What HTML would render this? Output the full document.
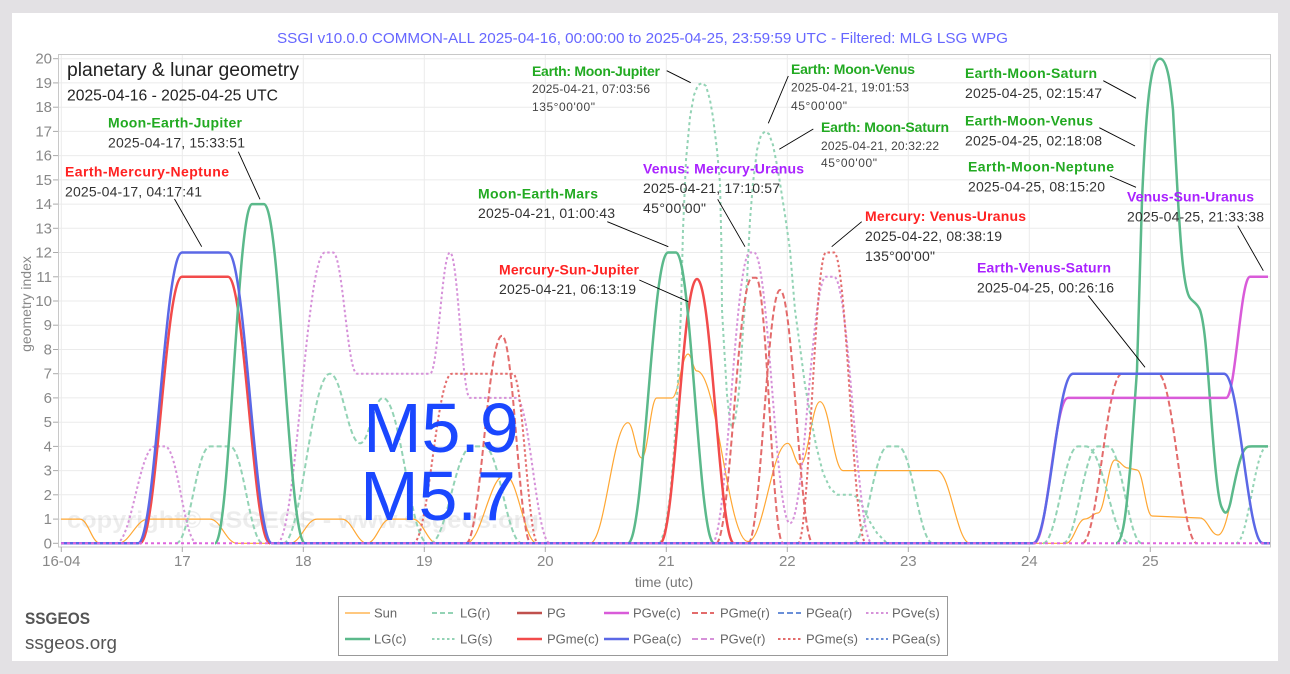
<!DOCTYPE html>
<html><head><meta charset="utf-8"><style>
html,body{margin:0;padding:0;background:#e3e1e4;}
svg{display:block;font-family:"Liberation Sans",sans-serif;}
</style></head><body>
<svg width="1290" height="674" viewBox="0 0 1290 674" xmlns="http://www.w3.org/2000/svg">
<rect x="0" y="0" width="1290" height="674" fill="#e3e1e4"/>
<rect x="12" y="13" width="1266" height="648" fill="#ffffff"/>

<!-- grid -->
<g stroke="#ebebeb" stroke-width="1">
<line x1="58" x2="1271" y1="519.1" y2="519.1"/><line x1="58" x2="1271" y1="494.8" y2="494.8"/>
<line x1="58" x2="1271" y1="470.6" y2="470.6"/><line x1="58" x2="1271" y1="446.4" y2="446.4"/>
<line x1="58" x2="1271" y1="422.2" y2="422.2"/><line x1="58" x2="1271" y1="397.9" y2="397.9"/>
<line x1="58" x2="1271" y1="373.7" y2="373.7"/><line x1="58" x2="1271" y1="349.5" y2="349.5"/>
<line x1="58" x2="1271" y1="325.2" y2="325.2"/><line x1="58" x2="1271" y1="301.0" y2="301.0"/>
<line x1="58" x2="1271" y1="276.8" y2="276.8"/><line x1="58" x2="1271" y1="252.5" y2="252.5"/>
<line x1="58" x2="1271" y1="228.3" y2="228.3"/><line x1="58" x2="1271" y1="204.1" y2="204.1"/>
<line x1="58" x2="1271" y1="179.9" y2="179.9"/><line x1="58" x2="1271" y1="155.6" y2="155.6"/>
<line x1="58" x2="1271" y1="131.4" y2="131.4"/><line x1="58" x2="1271" y1="107.2" y2="107.2"/>
<line x1="58" x2="1271" y1="82.9" y2="82.9"/><line x1="58" x2="1271" y1="58.7" y2="58.7"/>
<line x1="61.3" x2="61.3" y1="54" y2="547"/><line x1="182.3" x2="182.3" y1="54" y2="547"/>
<line x1="303.3" x2="303.3" y1="54" y2="547"/><line x1="424.3" x2="424.3" y1="54" y2="547"/>
<line x1="545.3" x2="545.3" y1="54" y2="547"/><line x1="666.3" x2="666.3" y1="54" y2="547"/>
<line x1="787.3" x2="787.3" y1="54" y2="547"/><line x1="908.3" x2="908.3" y1="54" y2="547"/>
<line x1="1029.3" x2="1029.3" y1="54" y2="547"/><line x1="1150.3" x2="1150.3" y1="54" y2="547"/>
</g>
<rect x="58.5" y="54.5" width="1212" height="492.5" fill="none" stroke="#c8c8c8" stroke-width="1"/>

<!-- y ticks -->
<g stroke="#aaa" stroke-width="1">
<line x1="53" x2="58" y1="543.3" y2="543.3"/><line x1="53" x2="58" y1="519.1" y2="519.1"/><line x1="53" x2="58" y1="494.8" y2="494.8"/><line x1="53" x2="58" y1="470.6" y2="470.6"/><line x1="53" x2="58" y1="446.4" y2="446.4"/><line x1="53" x2="58" y1="422.2" y2="422.2"/><line x1="53" x2="58" y1="397.9" y2="397.9"/><line x1="53" x2="58" y1="373.7" y2="373.7"/><line x1="53" x2="58" y1="349.5" y2="349.5"/><line x1="53" x2="58" y1="325.2" y2="325.2"/><line x1="53" x2="58" y1="301.0" y2="301.0"/><line x1="53" x2="58" y1="276.8" y2="276.8"/><line x1="53" x2="58" y1="252.5" y2="252.5"/><line x1="53" x2="58" y1="228.3" y2="228.3"/><line x1="53" x2="58" y1="204.1" y2="204.1"/><line x1="53" x2="58" y1="179.9" y2="179.9"/><line x1="53" x2="58" y1="155.6" y2="155.6"/><line x1="53" x2="58" y1="131.4" y2="131.4"/><line x1="53" x2="58" y1="107.2" y2="107.2"/><line x1="53" x2="58" y1="82.9" y2="82.9"/><line x1="53" x2="58" y1="58.7" y2="58.7"/>
<line x1="61.3" x2="61.3" y1="547" y2="552"/><line x1="182.3" x2="182.3" y1="547" y2="552"/><line x1="303.3" x2="303.3" y1="547" y2="552"/><line x1="424.3" x2="424.3" y1="547" y2="552"/><line x1="545.3" x2="545.3" y1="547" y2="552"/><line x1="666.3" x2="666.3" y1="547" y2="552"/><line x1="787.3" x2="787.3" y1="547" y2="552"/><line x1="908.3" x2="908.3" y1="547" y2="552"/><line x1="1029.3" x2="1029.3" y1="547" y2="552"/><line x1="1150.3" x2="1150.3" y1="547" y2="552"/>
</g>
<g fill="#888" font-size="15" text-anchor="end">
<text x="52" y="548.3">0</text><text x="52" y="524.1">1</text><text x="52" y="499.8">2</text><text x="52" y="475.6">3</text><text x="52" y="451.4">4</text><text x="52" y="427.2">5</text><text x="52" y="402.9">6</text><text x="52" y="378.7">7</text><text x="52" y="354.5">8</text><text x="52" y="330.2">9</text><text x="52" y="306.0">10</text><text x="52" y="281.8">11</text><text x="52" y="257.5">12</text><text x="52" y="233.3">13</text><text x="52" y="209.1">14</text><text x="52" y="184.9">15</text><text x="52" y="160.6">16</text><text x="52" y="136.4">17</text><text x="52" y="112.2">18</text><text x="52" y="87.9">19</text><text x="52" y="63.7">20</text>
</g>
<g fill="#888" font-size="15" text-anchor="middle">
<text x="61.3" y="566">16-04</text><text x="182.3" y="566">17</text><text x="303.3" y="566">18</text><text x="424.3" y="566">19</text><text x="545.3" y="566">20</text><text x="666.3" y="566">21</text><text x="787.3" y="566">22</text><text x="908.3" y="566">23</text><text x="1029.3" y="566">24</text><text x="1150.3" y="566">25</text>
<text x="664" y="587" font-size="14" fill="#777">time (utc)</text>
<text x="0" y="0" font-size="14" fill="#888" transform="translate(31,304) rotate(-90)">geometry index</text>
</g>

<!-- title -->
<text x="277" y="43" font-size="15" fill="#6666ff" textLength="731" lengthAdjust="spacingAndGlyphs">SSGI v10.0.0 COMMON-ALL 2025-04-16, 00:00:00 to 2025-04-25, 23:59:59 UTC - Filtered: MLG LSG WPG</text>

<!-- watermark -->
<text x="67" y="528" font-size="24" font-weight="bold" fill="#000" fill-opacity="0.07" textLength="472" lengthAdjust="spacingAndGlyphs">copyright© SSGEOS - www.ssgeos.org</text>

<!-- Sun -->
<path fill="none" stroke="#ffa733" stroke-width="1.2" d="M61,519.1 L80,519.1 C88,519.1 92,543.3 100,543.3 L118,543.3 C130,543.3 136,519.1 148,519.1 L210,519.1 C220.8,519.1 226.2,543.3 237,543.3 L290,543.3 C300.8,543.3 306.2,519.1 317,519.1 L342,519.1 C352,519.1 357,543.3 367,543.3 C376.2,543.3 380.8,519.1 390,519.1 L413,519.1 C422.6,519.1 427.4,543.3 437,543.3 L466,543.3 C481.6,543.3 489.4,475 505,475 C517.8,475 524.2,543.3 537,543.3 L590,543.3 C605.2,543.3 612.8,422.7 628,422.7 C633.5,422.7 636.2,458 641.7,458 C647.7,458 650.7,398 656.7,398 L672,398 C678,398 682,354 688,354 C691.6,354 693.4,371 697,371 C717,371 728,541.5 748,541.5 C764,541.5 771.7,443.3 787.7,443.3 C792.6,443.3 795.1,465 800,465 C808,465 812,401.7 820,401.7 C829.2,401.7 833.8,470.6 843,470.6 L937,470.6 C950.2,470.6 956.8,543.3 970,543.3 L1066,543.3 C1073.6,543.3 1077.4,519 1085,519 C1090.2,519 1092.8,513 1098,513 C1104.8,513 1108.2,460 1115,460 C1120.2,460 1122.8,468 1128,468 L1137,470 C1143,470 1146,516 1152,516 L1200,518 C1207.2,518 1210.8,535 1218,535 C1230,535 1236,446.4 1248,446.4 L1268,446.4"/>

<!-- LG light green dashed/dotted -->
<g fill="none" stroke="#93d3b5" stroke-width="2" stroke-dasharray="5,3">
<path d="M176,543.3 C189.6,543.3 196.4,446.4 210,446.4 L230,446.4 C243.2,446.4 249.8,543.3 263,543.3"/>
<path d="M283,543.3 C301.8,543.3 311.2,373.7 330,373.7 C342,373.7 348,443.3 360,443.3 C369.2,443.3 373.8,398 383,398 C401,398 410,543.3 428,543.3"/>
<path d="M430,543.3 C446.8,543.3 455.2,446.4 472,446.4 L484,446.4 C499.2,446.4 506.8,543.3 522,543.3"/>
<path d="M853,543.3 C867,543.3 874,446.4 888,446.4 L898,446.4 C912,446.4 919,543.3 933,543.3"/>
<path d="M1043,543.3 C1057,543.3 1064,446.4 1078,446.4 L1086,446.4 C1103.6,446.4 1112.4,543.3 1130,543.3"/>
<path d="M1063,543.3 C1077,543.3 1084,446.4 1098,446.4 L1108,446.4 C1121.6,446.4 1128.4,543.3 1142,543.3"/>
</g>
<g fill="none" stroke="#93d3b5" stroke-width="2" stroke-dasharray="3,3" stroke-linejoin="round">
<path d="M660,543.3 L665,530 L670,497 L674,450 L678,380 L681,310 L683,230 L686,160 L690,117 L694,95 L698,85 L702,83 L706,86 L710,100 L713,117 L717,150 L720,183 L721.5,250 L722,310 L724,345 L727,395 L730,422 L732,427 L735,420 L738,400 L740,380 L743,330 L747,280 L750,220 L753,183 L757,150 L761,135 L765,131.4 L769,134 L773,145 L777,165 L780,183 L785,215 L790,250 L795,310 L800,347 L805,385 L810,413 L816,445 L823,473 L830,488 L837,494.8 L853,494.8 L858,498 L863,507 L870,522 L877,533 L887,543.3"/>
<path d="M1236,543.3 C1248.4,543.3 1254.6,446.4 1267,446.4"/>
</g>

<!-- PGve pink dotted -->
<g fill="none" stroke="#d691d9" stroke-width="2" stroke-dasharray="2.5,2.5">
<path d="M116,543.3 C131.6,543.3 139.4,446.4 155,446.4 L165,446.4 C177.8,446.4 184.2,543.3 197,543.3"/>
<path d="M277,543.3 C296.2,543.3 305.8,252.5 325,252.5 L333,252.5 C342.6,252.5 347.4,373.7 357,373.7 L430,373.7 C438,373.7 442,252.5 450,252.5 C458,252.5 462,397.9 470,397.9 L516,397.9 C529.6,397.9 536.4,543.3 550,543.3"/>
<path d="M712,543.3 C727.2,543.3 734.8,252.5 750,252.5 L754,252.5 C768.4,252.5 775.6,523.3 790,523.3 C804.4,523.3 811.6,276.8 826,276.8 L834,276.8 C849.2,276.8 856.8,543.3 872,543.3"/>
</g>

<!-- PGme red dashed / dotted -->
<g fill="none" stroke="#e36b6b" stroke-width="2">
<path stroke-dasharray="2.5,2.5" d="M413,543.3 C428.6,543.3 436.4,373.7 452,373.7 L513,373.7 C523,373.7 528,543.3 538,543.3"/>
<path stroke-dasharray="6,3" d="M466,543.3 C480.4,543.3 487.6,335.7 502,335.7 C513.6,335.7 519.4,543.3 531,543.3"/>
<path stroke-dasharray="6,3" d="M716,543.3 C730.4,543.3 737.6,277.7 752,277.7 L756,277.7 C766.8,277.7 772.2,543.3 783,543.3"/>
<path stroke-dasharray="6,3" d="M748,543.3 C760.8,543.3 767.2,290 780,290 C793.2,290 799.8,543.3 813,543.3"/>
<path stroke-dasharray="2.5,2.5" d="M798,543.3 C809.2,543.3 814.8,252.5 826,252.5 L834,252.5 C846.8,252.5 853.2,543.3 866,543.3"/>
<path stroke-dasharray="6,3" d="M1082,543.3 C1098,543.3 1106,373.7 1122,373.7 L1158,373.7 C1173.6,373.7 1181.4,543.3 1197,543.3"/>
</g>

<!-- PGme(c) red solid -->
<path fill="none" stroke="#f24b4b" stroke-width="2.5" d="M140,543.3 C156.8,543.3 165.2,276.8 182,276.8 L228,276.8 C244.8,276.8 253.2,543.3 270,543.3 M660,543.3 C674.8,543.3 682.2,279 697,279 C711.8,279 719.2,543.3 734,543.3"/>

<!-- LG(c) green solid -->
<path fill="none" stroke="#5bb98b" stroke-width="2.5" d="M215,543.3 C229.8,543.3 237.2,204.1 252,204.1 L264,204.1 C280.4,204.1 288.6,543.3 305,543.3 M628,543.3 C644,543.3 652,252.5 668,252.5 L676,252.5 C691.2,252.5 698.8,543.3 714,543.3 M1116,543.3 C1124,543.3 1127,500 1130,470 L1137,370 L1142,200 C1146,110 1150,58.7 1160,58.7 C1168,58.7 1171,90 1173,110 L1178,200 C1181,250 1184,290 1190,298 C1194,303 1197,303 1200,310 C1205,325 1207,360 1210,400 C1213,440 1217,500 1222,508 C1225,515 1228,515 1231,500 C1235,480 1240,455 1245,449 C1247,446.4 1249,446.4 1252,446.4 L1268,446.4"/>

<!-- PGve(c) magenta -->
<path fill="none" stroke="#d95bd9" stroke-width="2.5" d="M1034,543.3 C1047.6,543.3 1054.4,397.9 1068,397.9 L1226,397.9 C1235.6,397.9 1240.4,276.8 1250,276.8 L1268,276.8"/>

<!-- PGea(c) blue -->
<path fill="none" stroke="#5b68e6" stroke-width="2.5" d="M61,543.3 L138,543.3 C155.6,543.3 164.4,252.5 182,252.5 L228,252.5 C245.6,252.5 254.4,543.3 272,543.3 L1033,543.3 C1049,543.3 1057,373.7 1073,373.7 L1224,373.7 C1239.6,373.7 1247.4,543.3 1263,543.3 L1270,543.3"/>
<line x1="61" x2="1269" y1="543.3" y2="543.3" stroke="#dd66dd" stroke-width="2" stroke-dasharray="3,3"/>

<!-- annotation leader lines -->
<g stroke="#000" stroke-width="0.9">
<line x1="238.3" y1="151.7" x2="260" y2="199.3"/>
<line x1="174.5" y1="199" x2="201.7" y2="246.7"/>
<line x1="666.7" y1="70.7" x2="690.7" y2="82.7"/>
<line x1="788.3" y1="76" x2="768.3" y2="123.3"/>
<line x1="813.3" y1="129" x2="779.3" y2="149.3"/>
<line x1="717.7" y1="199.3" x2="745" y2="246.7"/>
<line x1="607.3" y1="221.7" x2="668.3" y2="246.7"/>
<line x1="639.3" y1="280" x2="688.3" y2="301.7"/>
<line x1="861.7" y1="221.7" x2="831.7" y2="246.7"/>
<line x1="1103.3" y1="80.7" x2="1136" y2="98.3"/>
<line x1="1099.3" y1="127.7" x2="1135" y2="146"/>
<line x1="1110" y1="176" x2="1136" y2="187.3"/>
<line x1="1237.7" y1="225.7" x2="1263.3" y2="270.7"/>
<line x1="1088.3" y1="295.7" x2="1145" y2="367.3"/>
</g>

<!-- chart heading -->
<text x="67" y="76" font-size="19" fill="#222" textLength="232" lengthAdjust="spacingAndGlyphs">planetary &amp; lunar geometry</text>
<text x="67" y="100.5" font-size="16" fill="#222" textLength="211" lengthAdjust="spacingAndGlyphs">2025-04-16 - 2025-04-25 UTC</text>

<!-- annotation labels -->
<g font-size="14" font-weight="bold" lengthAdjust="spacingAndGlyphs">
<text x="108" y="127.5" fill="#22aa22" textLength="134">Moon-Earth-Jupiter</text>
<text x="65" y="176.5" fill="#ff2222" textLength="164">Earth-Mercury-Neptune</text>
<text x="532" y="76" fill="#22aa22" textLength="128">Earth: Moon-Jupiter</text>
<text x="791" y="74" fill="#22aa22" textLength="124">Earth: Moon-Venus</text>
<text x="821" y="132" fill="#22aa22" textLength="128">Earth: Moon-Saturn</text>
<text x="643" y="173.5" fill="#aa22ff" textLength="161">Venus: Mercury-Uranus</text>
<text x="478" y="198.5" fill="#22aa22" textLength="120">Moon-Earth-Mars</text>
<text x="499" y="274.5" fill="#ff2222" textLength="140">Mercury-Sun-Jupiter</text>
<text x="865" y="221" fill="#ff2222" textLength="161">Mercury: Venus-Uranus</text>
<text x="965" y="78" fill="#22aa22" textLength="132">Earth-Moon-Saturn</text>
<text x="965" y="125.5" fill="#22aa22" textLength="128">Earth-Moon-Venus</text>
<text x="968" y="171.5" fill="#22aa22" textLength="146">Earth-Moon-Neptune</text>
<text x="1127" y="201.5" fill="#aa22ff" textLength="127">Venus-Sun-Uranus</text>
<text x="977" y="272.5" fill="#aa22ff" textLength="134">Earth-Venus-Saturn</text>
</g>
<g font-size="14" fill="#333" lengthAdjust="spacingAndGlyphs">
<text x="108" y="147.5" textLength="137">2025-04-17, 15:33:51</text>
<text x="65" y="196.5" textLength="137">2025-04-17, 04:17:41</text>
<text x="643" y="193" textLength="137">2025-04-21, 17:10:57</text>
<text x="643" y="213" textLength="63">45°00'00"</text>
<text x="478" y="218" textLength="137">2025-04-21, 01:00:43</text>
<text x="499" y="294" textLength="137">2025-04-21, 06:13:19</text>
<text x="865" y="241" textLength="137">2025-04-22, 08:38:19</text>
<text x="865" y="261" textLength="70">135°00'00"</text>
<text x="965" y="98" textLength="137">2025-04-25, 02:15:47</text>
<text x="965" y="145.5" textLength="137">2025-04-25, 02:18:08</text>
<text x="968" y="191.5" textLength="137">2025-04-25, 08:15:20</text>
<text x="1127" y="221.5" textLength="137">2025-04-25, 21:33:38</text>
<text x="977" y="292.5" textLength="137">2025-04-25, 00:26:16</text>
</g>
<g font-size="12" fill="#444" lengthAdjust="spacingAndGlyphs">
<text x="532" y="93" textLength="118">2025-04-21, 07:03:56</text>
<text x="532" y="111" textLength="63">135°00'00"</text>
<text x="791" y="91.5" textLength="118">2025-04-21, 19:01:53</text>
<text x="791" y="110" textLength="56">45°00'00"</text>
<text x="821" y="150" textLength="118">2025-04-21, 20:32:22</text>
<text x="821" y="167" textLength="56">45°00'00"</text>
</g>

<!-- big magnitude text -->
<g font-size="70" fill="#1a47ff" text-anchor="middle">
<text x="441" y="452">M5.9</text>
<text x="438" y="520">M5.7</text>
</g>

<!-- brand -->
<text x="25" y="624" font-size="17" font-weight="bold" fill="#555" textLength="65" lengthAdjust="spacingAndGlyphs">SSGEOS</text>
<text x="25" y="649" font-size="18" fill="#555" textLength="92" lengthAdjust="spacingAndGlyphs">ssgeos.org</text>

<!-- legend -->
<rect x="338.5" y="596.5" width="609" height="59" fill="#fff" stroke="#999" stroke-width="1"/>
<g stroke-width="2.5" fill="none">
<line x1="345" x2="370" y1="613" y2="613" stroke="#ffa733" stroke-width="1.2"/>
<line x1="345" x2="370" y1="639" y2="639" stroke="#5bb98b"/>
<line x1="432" x2="455" y1="613" y2="613" stroke="#93d3b5" stroke-width="2" stroke-dasharray="5,3"/>
<line x1="432" x2="455" y1="639" y2="639" stroke="#93d3b5" stroke-width="2" stroke-dasharray="2.5,2.5"/>
<line x1="517" x2="542" y1="613" y2="613" stroke="#c0504d"/>
<line x1="517" x2="542" y1="639" y2="639" stroke="#f24b4b"/>
<line x1="604" x2="629" y1="613" y2="613" stroke="#d95bd9"/>
<line x1="604" x2="629" y1="639" y2="639" stroke="#5b68e6"/>
<line x1="692" x2="714" y1="613" y2="613" stroke="#e36b6b" stroke-width="2" stroke-dasharray="6,3"/>
<line x1="692" x2="714" y1="639" y2="639" stroke="#d691d9" stroke-width="2" stroke-dasharray="6,3"/>
<line x1="778" x2="801" y1="613" y2="613" stroke="#6a8fd8" stroke-width="2" stroke-dasharray="6,3"/>
<line x1="778" x2="801" y1="639" y2="639" stroke="#e36b6b" stroke-width="2" stroke-dasharray="2.5,2.5"/>
<line x1="866" x2="888" y1="613" y2="613" stroke="#d691d9" stroke-width="2" stroke-dasharray="2.5,2.5"/>
<line x1="866" x2="888" y1="639" y2="639" stroke="#6a8fd8" stroke-width="2" stroke-dasharray="2.5,2.5"/>
</g>
<g font-size="13" fill="#666">
<text x="374" y="617.5">Sun</text><text x="374" y="643.5">LG(c)</text>
<text x="460" y="617.5">LG(r)</text><text x="460" y="643.5">LG(s)</text>
<text x="547" y="617.5">PG</text><text x="547" y="643.5">PGme(c)</text>
<text x="633" y="617.5">PGve(c)</text><text x="633" y="643.5">PGea(c)</text>
<text x="720" y="617.5">PGme(r)</text><text x="720" y="643.5">PGve(r)</text>
<text x="806" y="617.5">PGea(r)</text><text x="806" y="643.5">PGme(s)</text>
<text x="892" y="617.5">PGve(s)</text><text x="892" y="643.5">PGea(s)</text>
</g>
</svg>
</body></html>
